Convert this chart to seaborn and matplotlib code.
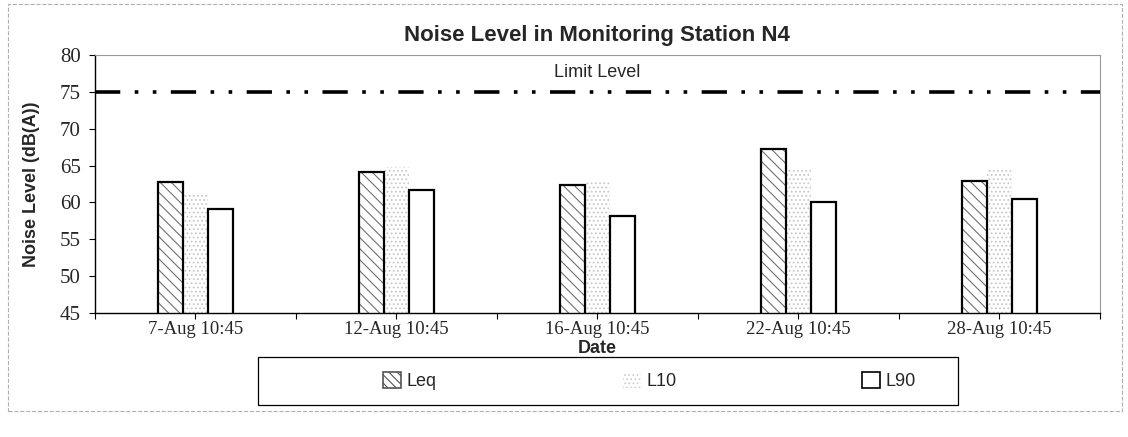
import numpy as np
import pandas as pd
import seaborn as sns
import matplotlib.pyplot as plt
from matplotlib.patches import Patch, Rectangle
from matplotlib.ticker import FixedLocator

dates = ["7-Aug 10:45", "12-Aug 10:45", "16-Aug 10:45", "22-Aug 10:45", "28-Aug 10:45"]
leq = [62.8, 64.1, 62.3, 67.2, 62.9]
l10 = [61.0, 64.8, 62.8, 64.6, 64.4]
l90 = [59.1, 61.7, 58.2, 60.1, 60.5]
series = ["Leq", "L10", "L90"]
limit_level = 75

df = pd.DataFrame({
    "Date": dates * 3,
    "Level": leq + l10 + l90,
    "Series": ["Leq"] * 5 + ["L10"] * 5 + ["L90"] * 5,
})

sns.set_theme(style="white")
plt.rcParams['font.family'] = ['Liberation Sans', 'DejaVu Sans']
plt.rcParams['hatch.linewidth'] = 0.8

fig = plt.figure(figsize=(11.28, 4.37), dpi=100)
ax = fig.add_axes([0.084, 0.284, 0.891, 0.59])

sns.barplot(data=df, x="Date", y="Level", hue="Series", hue_order=series,
            order=dates, width=0.375, gap=0, palette=["white"] * 3,
            legend=False, ax=ax, zorder=2)

styles = {
    "Leq": dict(hatch="\\\\\\", edgecolor="black", lw=1.6, hc="#707070"),
    "L10": dict(hatch="....", edgecolor="none", lw=0, hc="#c8c8c8"),
    "L90": dict(hatch=None, edgecolor="black", lw=1.6, hc="black"),
}
for cont, name in zip(ax.containers, series):
    st = styles[name]
    for bar in cont:
        bar.set_facecolor("white")
        bar.set_hatch(st["hatch"])
        bar.set_edgecolor(st["hc"])
        bar.set_linewidth(0)
        # outline separately so hatch colour can differ
        if st["edgecolor"] != "none":
            x, y = bar.get_xy()
            ax.add_patch(Rectangle((x, y), bar.get_width(), bar.get_height(),
                                   fill=False, edgecolor="black", lw=st["lw"], zorder=3))

ax.axhline(limit_level, color="black", lw=2.6, linestyle=(0, (7, 4, 1, 4, 1, 4)), zorder=4)
ax.text(2, 77.6, "Limit Level", ha="center", va="center", fontsize=13)

ax.set_ylim(45, 80)
ax.set_xlim(-0.5, 4.5)
ax.set_yticks(range(45, 81, 5))
ax.set_yticklabels([str(v) for v in range(45, 81, 5)], family="Liberation Serif", fontsize=15)
ax.set_xticks(range(len(dates)))
ax.set_xticklabels(dates, family="Liberation Serif", fontsize=13.5)
ax.xaxis.set_minor_locator(FixedLocator(np.arange(-0.5, 5, 1)))
ax.tick_params(axis="both", which="both", direction="out", length=4, width=0.8,
               color="black", bottom=True, left=True)
ax.tick_params(axis="x", pad=2)
ax.tick_params(axis="y", pad=6)

for s in ["left", "bottom"]:
    ax.spines[s].set_color("black")
    ax.spines[s].set_linewidth(1.0)
for s in ["top", "right"]:
    ax.spines[s].set_color("#9a9a9a")
    ax.spines[s].set_linewidth(0.8)

ax.set_xlabel("Date", fontsize=13, fontweight="bold", labelpad=1)
ax.set_ylabel("Noise Level (dB(A))", fontsize=13, fontweight="bold", labelpad=14)
ax.set_title("Noise Level in Monitoring Station N4", fontsize=16, fontweight="bold", pad=10)

handles = [Patch(facecolor="white", edgecolor="#555555", hatch="\\\\\\\\", lw=1.2),
           Patch(facecolor="white", edgecolor="#d0d0d0", hatch="....", lw=0),
           Patch(facecolor="white", edgecolor="black", lw=1.2)]
leg = fig.legend(handles, series, loc="center", bbox_to_anchor=(0.576, 0.128),
                 ncol=3, frameon=False, fontsize=13,
                 handlelength=1.0, handleheight=1.0, handletextpad=0.3,
                 columnspacing=10.3)

# legend box drawn separately, wider than the entries
fig.patches.append(Rectangle((0.229, 0.073), 0.62, 0.11, transform=fig.transFigure,
                             fill=False, edgecolor="black", lw=0.9))
fig.patches.append(Rectangle((0.007, 0.06), 0.988, 0.93, transform=fig.transFigure,
                             fill=False, edgecolor="#b0b0b0", lw=0.8, linestyle="--"))

fig.savefig("out.png", dpi=100)
